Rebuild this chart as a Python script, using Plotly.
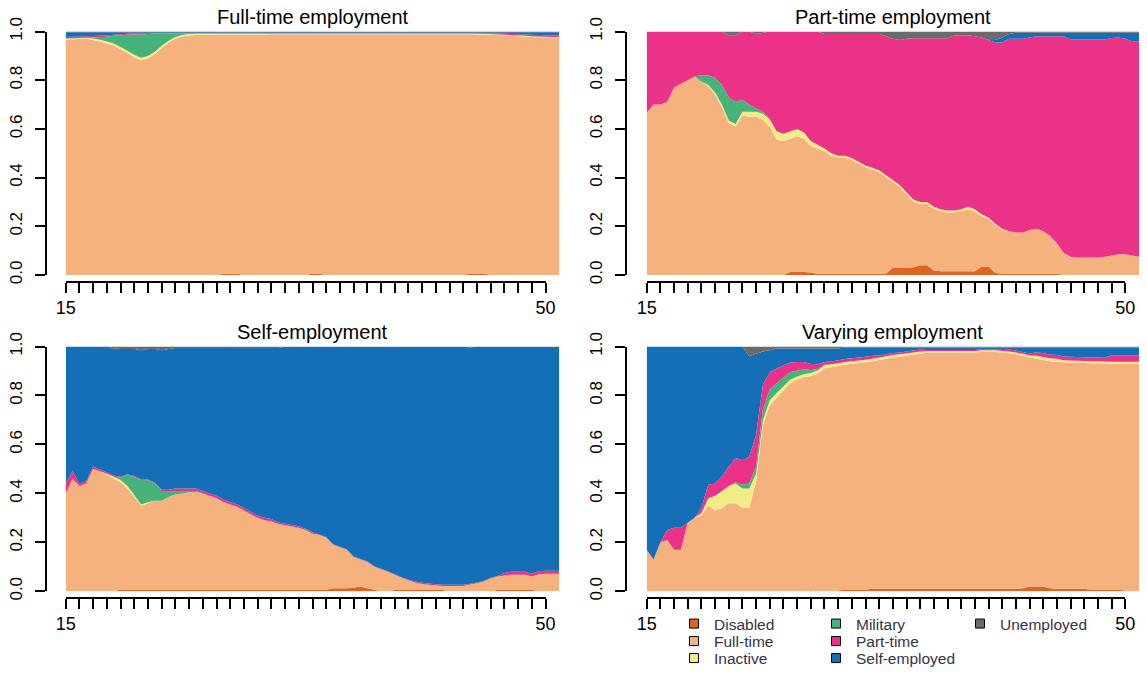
import plotly.graph_objects as go

# ---------------- data ----------------
ages = [15.0, 15.5, 16.0, 16.5, 17.0, 17.5, 18.0, 18.5, 19.0, 19.5,
        20.0, 20.5, 21.0, 21.5, 22.0, 22.5, 23.0, 23.5, 24.0, 24.5,
        25.0, 25.5, 26.0, 26.5, 27.0, 27.5, 28.0, 28.5, 29.0, 29.5,
        30.0, 30.5, 31.0, 31.5, 32.0, 32.5, 33.0, 33.5, 34.0, 34.5,
        35.0, 35.5, 36.0, 36.5, 37.0, 37.5, 38.0, 38.5, 39.0, 39.5,
        40.0, 40.5, 41.0, 41.5, 42.0, 42.5, 43.0, 43.5, 44.0, 44.5,
        45.0, 45.5, 46.0, 46.5, 47.0, 47.5, 48.0, 48.5, 49.0, 49.5,
        50.0, 50.5, 51.0]

states = ["Disabled", "Full-time", "Inactive", "Military",
          "Part-time", "Self-employed", "Unemployed"]
state_colors = ["#E0631F", "#F5B27F", "#F2EC87", "#47B37A",
                "#EA3388", "#146FB7", "#6B6B6B"]

panel_titles = ["Full-time employment", "Part-time employment",
                "Self-employment", "Varying employment"]

year_ticks = [15, 16, 17, 18, 19, 20, 21, 22, 23, 24, 25, 26, 27, 28, 29, 30,
              31, 32, 33, 34, 35, 36, 37, 38, 39, 40, 41, 42, 43, 44, 45, 46,
              47, 48, 49, 50]
year_tick_text = ["15"] + [""] * 34 + ["50"]
share_ticks = [0.0, 0.2, 0.4, 0.6, 0.8, 1.0]
share_tick_text = ["0.0", "0.2", "0.4", "0.6", "0.8", "1.0"]

# Panel 1: Full-time employment
fte_disabled = [0, 0, 0, 0, 0, 0, 0, 0, 0, 0,
                0, 0, 0, 0, 0, 0, 0, 0, 0, 0,
                0, 0, 0, 0.005, 0.005, 0.005, 0, 0, 0, 0,
                0, 0, 0, 0, 0, 0, 0.005, 0.005, 0, 0,
                0, 0, 0, 0, 0, 0, 0, 0, 0, 0,
                0, 0, 0, 0, 0, 0, 0, 0, 0, 0.006,
                0.006, 0.006, 0, 0, 0, 0, 0, 0, 0, 0,
                0, 0, 0]
fte_fulltime = [0.965, 0.968, 0.967, 0.963, 0.958, 0.952, 0.945, 0.935, 0.922, 0.905,
                0.89, 0.877, 0.882, 0.898, 0.922, 0.946, 0.964, 0.975, 0.98, 0.982,
                0.983, 0.984, 0.985, 0.98, 0.981, 0.981, 0.987, 0.988, 0.988, 0.989,
                0.99, 0.99, 0.99, 0.991, 0.991, 0.991, 0.986, 0.986, 0.991, 0.991,
                0.992, 0.992, 0.992, 0.992, 0.992, 0.992, 0.992, 0.992, 0.991, 0.991,
                0.991, 0.991, 0.991, 0.99, 0.99, 0.99, 0.99, 0.99, 0.99, 0.984,
                0.984, 0.984, 0.989, 0.988, 0.987, 0.986, 0.984, 0.982, 0.98, 0.978,
                0.976, 0.975, 0.975]
fte_inactive = [0.004, 0.004, 0.004, 0.004, 0.006, 0.007, 0.008, 0.008, 0.009, 0.009,
                0.01, 0.01, 0.01, 0.01, 0.009, 0.008, 0.007, 0.006, 0.006, 0.006,
                0.005, 0.005, 0.004, 0.004, 0.004, 0.004, 0.004, 0.004, 0.004, 0.004,
                0.003, 0.003, 0.003, 0.003, 0.003, 0.003, 0.003, 0.003, 0.003, 0.003,
                0.003, 0.003, 0.003, 0.003, 0.003, 0.003, 0.003, 0.003, 0.003, 0.003,
                0.003, 0.003, 0.003, 0.003, 0.003, 0.003, 0.003, 0.003, 0.003, 0.003,
                0.003, 0.003, 0.003, 0.003, 0.003, 0.003, 0.003, 0.003, 0.003, 0.003,
                0.003, 0.003, 0.003]
fte_military = [0, 0, 0, 0, 0.005, 0.012, 0.02, 0.032, 0.048, 0.066,
                0.083, 0.095, 0.09, 0.074, 0.05, 0.03, 0.014, 0.006, 0.002, 0,
                0, 0, 0, 0, 0, 0, 0, 0, 0, 0,
                0, 0, 0, 0, 0, 0, 0, 0, 0, 0,
                0, 0, 0, 0, 0, 0, 0, 0, 0, 0,
                0, 0, 0, 0, 0, 0, 0, 0, 0, 0,
                0, 0, 0, 0, 0, 0, 0, 0, 0, 0,
                0, 0, 0]
fte_parttime = [0.006, 0.006, 0.006, 0.006, 0.006, 0.006, 0.006, 0.004, 0.004, 0.004,
                0.004, 0.004, 0.004, 0.002, 0.002, 0.002, 0.002, 0.002, 0.002, 0.002,
                0.002, 0.002, 0.002, 0.002, 0.002, 0.002, 0.002, 0.002, 0.002, 0.002,
                0.002, 0.002, 0.002, 0.002, 0.002, 0.002, 0.002, 0.002, 0.002, 0.002,
                0.002, 0.002, 0.002, 0.002, 0.002, 0.002, 0.002, 0.002, 0.002, 0.002,
                0.002, 0.002, 0.002, 0.002, 0.002, 0.002, 0.002, 0.002, 0.002, 0.002,
                0.002, 0.002, 0.002, 0.004, 0.004, 0.005, 0.006, 0.006, 0.007, 0.007,
                0.007, 0.007, 0.007]
fte_selfemp = [0.02, 0.019, 0.018, 0.016, 0.015, 0.013, 0.012, 0.01, 0.008, 0.006,
               0.005, 0.005, 0.003, 0.003, 0.003, 0.003, 0.003, 0.003, 0.003, 0.003,
               0.003, 0.003, 0.003, 0.003, 0.003, 0.003, 0.003, 0.003, 0.003, 0.003,
               0.003, 0.003, 0.003, 0.003, 0.003, 0.003, 0.003, 0.003, 0.003, 0.003,
               0.003, 0.003, 0.003, 0.003, 0.003, 0.003, 0.003, 0.003, 0.003, 0.003,
               0.003, 0.003, 0.003, 0.003, 0.003, 0.003, 0.003, 0.003, 0.003, 0.003,
               0.004, 0.004, 0.005, 0.005, 0.006, 0.007, 0.008, 0.009, 0.01, 0.011,
               0.012, 0.013, 0.013]
fte_unemp = [0.003, 0.003, 0.003, 0.003, 0.003, 0.003, 0.003, 0.003, 0.003, 0.003,
             0.003, 0.003, 0.003, 0.003, 0.003, 0.003, 0.003, 0.003, 0.003, 0.003,
             0.003, 0.003, 0.003, 0.003, 0.003, 0.003, 0.003, 0.003, 0.003, 0.003,
             0.003, 0.003, 0.003, 0.003, 0.003, 0.003, 0.003, 0.003, 0.003, 0.003,
             0.003, 0.003, 0.003, 0.003, 0.003, 0.003, 0.003, 0.003, 0.003, 0.003,
             0.003, 0.003, 0.003, 0.003, 0.003, 0.003, 0.003, 0.003, 0.003, 0.003,
             0.003, 0.003, 0.003, 0.003, 0.003, 0.003, 0.003, 0.003, 0.003, 0.003,
             0.003, 0.003, 0.003]

# Panel 2: Part-time employment
pte_disabled = [0, 0, 0, 0, 0, 0, 0, 0, 0, 0,
                0, 0, 0, 0, 0, 0, 0, 0, 0, 0,
                0, 0.012, 0.012, 0.012, 0.01, 0.005, 0.005, 0.005, 0.005, 0.005,
                0.005, 0.005, 0.005, 0.005, 0.005, 0.005, 0.03, 0.03, 0.03, 0.032,
                0.04, 0.04, 0.018, 0.015, 0.015, 0.015, 0.015, 0.015, 0.015, 0.035,
                0.035, 0.008, 0.005, 0.005, 0.005, 0.005, 0.005, 0.005, 0.005, 0.005,
                0.005, 0, 0, 0, 0, 0, 0, 0, 0, 0,
                0, 0, 0]
pte_fulltime = [0.665, 0.70, 0.70, 0.71, 0.77, 0.785, 0.80, 0.815, 0.795, 0.775,
                0.74, 0.69, 0.625, 0.61, 0.655, 0.65, 0.65, 0.637, 0.61, 0.555,
                0.55, 0.548, 0.558, 0.548, 0.52, 0.515, 0.503, 0.485, 0.477, 0.477,
                0.467, 0.452, 0.437, 0.427, 0.417, 0.397, 0.352, 0.332, 0.302, 0.27,
                0.252, 0.252, 0.254, 0.247, 0.242, 0.242, 0.247, 0.255, 0.245, 0.205,
                0.195, 0.197, 0.18, 0.175, 0.17, 0.17, 0.18, 0.185, 0.175, 0.155,
                0.125, 0.09, 0.075, 0.072, 0.072, 0.072, 0.072, 0.075, 0.08, 0.085,
                0.085, 0.08, 0.075]
pte_inactive = [0, 0, 0, 0, 0, 0, 0, 0, 0, 0.005,
                0.01, 0.01, 0.01, 0.01, 0.015, 0.02, 0.02, 0.025, 0.03, 0.035,
                0.03, 0.03, 0.03, 0.025, 0.02, 0.015, 0.012, 0.01, 0.008, 0.008,
                0.008, 0.008, 0.008, 0.008, 0.008, 0.008, 0.008, 0.008, 0.008, 0.008,
                0.008, 0.008, 0.008, 0.008, 0.008, 0.008, 0.008, 0.01, 0.01, 0.01,
                0.005, 0.005, 0.005, 0, 0, 0, 0, 0, 0, 0,
                0, 0, 0, 0, 0, 0, 0, 0, 0, 0,
                0, 0, 0]
pte_military = [0, 0, 0, 0, 0, 0, 0, 0, 0.025, 0.04,
                0.06, 0.08, 0.095, 0.09, 0.05, 0.03, 0.015, 0.008, 0, 0,
                0, 0, 0, 0, 0, 0, 0, 0, 0, 0,
                0, 0, 0, 0, 0, 0, 0, 0, 0, 0,
                0, 0, 0, 0, 0, 0, 0, 0, 0, 0,
                0, 0, 0, 0, 0, 0, 0, 0, 0, 0,
                0, 0, 0, 0, 0, 0, 0, 0, 0, 0,
                0, 0, 0]
pte_parttime = [0.335, 0.30, 0.30, 0.29, 0.23, 0.215, 0.20, 0.185, 0.18, 0.18,
                0.19, 0.22, 0.255, 0.275, 0.28, 0.30, 0.305, 0.325, 0.36, 0.41,
                0.42, 0.41, 0.40, 0.415, 0.45, 0.465, 0.47, 0.49, 0.50, 0.50,
                0.51, 0.525, 0.54, 0.55, 0.56, 0.57, 0.58, 0.595, 0.63, 0.662,
                0.672, 0.672, 0.692, 0.702, 0.707, 0.72, 0.715, 0.705, 0.71, 0.725,
                0.73, 0.745, 0.765, 0.79, 0.795, 0.795, 0.79, 0.79, 0.80, 0.82,
                0.85, 0.89, 0.892, 0.895, 0.895, 0.895, 0.895, 0.892, 0.893, 0.89,
                0.885, 0.88, 0.885]
pte_selfemp = [0, 0, 0, 0, 0, 0, 0, 0, 0, 0,
               0, 0, 0, 0, 0, 0, 0, 0, 0, 0,
               0, 0, 0, 0, 0, 0, 0, 0, 0, 0,
               0, 0, 0, 0, 0, 0, 0, 0, 0, 0,
               0, 0, 0, 0, 0, 0, 0, 0, 0, 0,
               0, 0.01, 0.02, 0.02, 0.025, 0.025, 0.02, 0.015, 0.015, 0.015,
               0.015, 0.015, 0.028, 0.028, 0.028, 0.028, 0.028, 0.028, 0.022, 0.02,
               0.025, 0.035, 0.035]
pte_unemp = [0, 0, 0, 0, 0, 0, 0, 0, 0, 0,
             0, 0, 0.015, 0.015, 0, 0, 0.01, 0.005, 0, 0,
             0, 0, 0, 0, 0, 0, 0.01, 0.01, 0.01, 0.01,
             0.01, 0.01, 0.01, 0.01, 0.01, 0.02, 0.03, 0.035, 0.03, 0.028,
             0.028, 0.028, 0.028, 0.028, 0.028, 0.015, 0.015, 0.015, 0.02, 0.025,
             0.035, 0.035, 0.025, 0.01, 0.005, 0.005, 0.005, 0.005, 0.005, 0.005,
             0.005, 0.005, 0.005, 0.005, 0.005, 0.005, 0.005, 0.005, 0.005, 0.005,
             0.005, 0.005, 0.005]

# Panel 3: Self-employment
sem_disabled = [0, 0, 0, 0, 0, 0, 0, 0, 0.006, 0.006,
                0.006, 0.006, 0.006, 0.006, 0.006, 0.006, 0.006, 0.006, 0.006, 0.006,
                0.006, 0.006, 0.006, 0.006, 0.006, 0.006, 0.006, 0.006, 0.006, 0.006,
                0.006, 0.006, 0.006, 0.006, 0.006, 0.006, 0.006, 0.006, 0.006, 0.012,
                0.012, 0.012, 0.015, 0.02, 0.012, 0.006, 0, 0, 0.005, 0.005,
                0.005, 0.005, 0.005, 0.005, 0.005, 0.005, 0, 0, 0, 0,
                0, 0, 0, 0.006, 0.006, 0.006, 0.006, 0.006, 0.006, 0,
                0, 0, 0]
sem_fulltime = [0.40, 0.46, 0.43, 0.44, 0.50, 0.49, 0.475, 0.46, 0.439, 0.414,
                0.379, 0.344, 0.354, 0.364, 0.364, 0.379, 0.389, 0.394, 0.399, 0.399,
                0.394, 0.384, 0.374, 0.359, 0.349, 0.339, 0.324, 0.309, 0.294, 0.284,
                0.279, 0.269, 0.264, 0.259, 0.254, 0.244, 0.229, 0.224, 0.214, 0.178,
                0.168, 0.158, 0.125, 0.11, 0.108, 0.094, 0.09, 0.08, 0.063, 0.05,
                0.04, 0.03, 0.025, 0.022, 0.019, 0.017, 0.022, 0.022, 0.022, 0.028,
                0.033, 0.04, 0.052, 0.054, 0.059, 0.062, 0.062, 0.062, 0.054, 0.07,
                0.072, 0.072, 0.072]
sem_inactive = [0, 0, 0, 0, 0, 0, 0.005, 0.008, 0.01, 0.01,
                0.008, 0.005, 0.004, 0, 0, 0, 0, 0, 0, 0,
                0, 0, 0, 0, 0, 0, 0, 0, 0, 0,
                0, 0, 0, 0, 0, 0, 0, 0, 0, 0,
                0, 0, 0, 0, 0, 0, 0, 0, 0, 0,
                0, 0, 0, 0, 0, 0, 0, 0, 0, 0,
                0, 0, 0, 0, 0, 0, 0, 0, 0, 0,
                0, 0, 0]
sem_military = [0, 0, 0, 0, 0, 0, 0, 0, 0.01, 0.045,
                0.075, 0.10, 0.09, 0.07, 0.04, 0.025, 0.015, 0.01, 0.005, 0.005,
                0, 0, 0, 0, 0, 0, 0, 0, 0, 0,
                0, 0, 0, 0, 0, 0, 0, 0, 0, 0,
                0, 0, 0, 0, 0, 0, 0, 0, 0, 0,
                0, 0, 0, 0, 0, 0, 0, 0, 0, 0,
                0, 0, 0, 0, 0, 0, 0, 0, 0, 0,
                0, 0, 0]
sem_parttime = [0.04, 0.03, 0.01, 0.01, 0.01, 0.008, 0.006, 0.005, 0.003, 0.003,
                0.003, 0.003, 0.003, 0.003, 0.005, 0.005, 0.01, 0.01, 0.01, 0.01,
                0.01, 0.01, 0.01, 0.01, 0.01, 0.01, 0.01, 0.01, 0.01, 0.01,
                0.01, 0.006, 0.006, 0.006, 0.006, 0.006, 0.006, 0.002, 0.002, 0.002,
                0.002, 0.002, 0.002, 0.002, 0.002, 0.002, 0.002, 0.002, 0.002, 0.002,
                0.002, 0.005, 0.005, 0.005, 0.005, 0.005, 0.005, 0.005, 0.005, 0.003,
                0.003, 0.003, 0.003, 0.003, 0.01, 0.012, 0.012, 0.012, 0.012, 0.012,
                0.012, 0.012, 0.012]
sem_selfemp = [0.56, 0.51, 0.56, 0.55, 0.49, 0.502, 0.514, 0.519, 0.522, 0.512,
               0.519, 0.527, 0.533, 0.547, 0.57, 0.575, 0.574, 0.574, 0.574, 0.574,
               0.584, 0.594, 0.604, 0.619, 0.629, 0.639, 0.654, 0.669, 0.684, 0.694,
               0.699, 0.713, 0.723, 0.728, 0.733, 0.743, 0.758, 0.767, 0.777, 0.807,
               0.817, 0.827, 0.857, 0.867, 0.877, 0.897, 0.907, 0.917, 0.929, 0.942,
               0.952, 0.959, 0.964, 0.967, 0.97, 0.972, 0.972, 0.972, 0.972, 0.965,
               0.963, 0.956, 0.944, 0.936, 0.924, 0.919, 0.919, 0.919, 0.927, 0.917,
               0.915, 0.915, 0.915]
sem_unemp = [0, 0, 0, 0, 0, 0, 0, 0.008, 0.01, 0.01,
             0.01, 0.015, 0.01, 0.01, 0.015, 0.01, 0.006, 0.006, 0.006, 0.006,
             0.006, 0.006, 0.006, 0.006, 0.006, 0.006, 0.006, 0.006, 0.006, 0.006,
             0.006, 0.006, 0.001, 0.001, 0.001, 0.001, 0.001, 0.001, 0.001, 0.001,
             0.001, 0.001, 0.001, 0.001, 0.001, 0.001, 0.001, 0.001, 0.001, 0.001,
             0.001, 0.001, 0.001, 0.001, 0.001, 0.001, 0.001, 0.001, 0.001, 0.004,
             0.001, 0.001, 0.001, 0.001, 0.001, 0.001, 0.001, 0.001, 0.001, 0.001,
             0.001, 0.001, 0.001]

# Panel 4: Varying employment
vae_disabled = [0, 0, 0, 0, 0, 0, 0, 0, 0, 0,
                0, 0, 0, 0, 0, 0, 0, 0, 0, 0,
                0, 0, 0, 0, 0.004, 0, 0, 0, 0.003, 0.006,
                0.006, 0.006, 0.006, 0.01, 0.01, 0.01, 0.01, 0.01, 0.01, 0.01,
                0.01, 0.01, 0.01, 0.01, 0.01, 0.01, 0.01, 0.01, 0.01, 0.01,
                0.01, 0.01, 0.01, 0.01, 0.01, 0.012, 0.02, 0.02, 0.02, 0.012,
                0.01, 0.01, 0.01, 0.01, 0.01, 0.006, 0.006, 0.006, 0.006, 0.006,
                0.003, 0, 0]
vae_fulltime = [0.17, 0.13, 0.20, 0.21, 0.17, 0.17, 0.28, 0.30, 0.31, 0.35,
                0.33, 0.34, 0.36, 0.36, 0.34, 0.34, 0.45, 0.68, 0.76, 0.79,
                0.82, 0.85, 0.865, 0.875, 0.876, 0.89, 0.91, 0.915, 0.917, 0.919,
                0.924, 0.927, 0.93, 0.93, 0.935, 0.94, 0.945, 0.948, 0.952, 0.956,
                0.96, 0.965, 0.965, 0.965, 0.965, 0.965, 0.965, 0.965, 0.965, 0.968,
                0.968, 0.968, 0.965, 0.962, 0.958, 0.95, 0.935, 0.93, 0.925, 0.928,
                0.928, 0.926, 0.925, 0.924, 0.923, 0.926, 0.926, 0.925, 0.924, 0.924,
                0.927, 0.93, 0.93]
vae_inactive = [0, 0, 0, 0, 0, 0, 0, 0, 0.01, 0.03,
                0.06, 0.07, 0.07, 0.08, 0.08, 0.08, 0.03, 0.02, 0.02, 0.02,
                0.018, 0.015, 0.012, 0.012, 0.012, 0.012, 0.012, 0.012, 0.012, 0.012,
                0.01, 0.01, 0.01, 0.01, 0.01, 0.01, 0.01, 0.01, 0.01, 0.01,
                0.01, 0.007, 0.007, 0.007, 0.007, 0.007, 0.007, 0.007, 0.007, 0.007,
                0.007, 0.007, 0.007, 0.008, 0.008, 0.008, 0.008, 0.012, 0.012, 0.012,
                0.012, 0.008, 0.008, 0.008, 0.008, 0.008, 0.008, 0.008, 0.008, 0.008,
                0.008, 0.008, 0.008]
vae_military = [0, 0, 0, 0, 0, 0, 0, 0, 0, 0,
                0, 0, 0, 0.005, 0.015, 0.02, 0.03, 0.045, 0.045, 0.04,
                0.035, 0.03, 0.025, 0.02, 0.012, 0.006, 0.003, 0, 0, 0,
                0, 0, 0, 0, 0, 0, 0, 0, 0, 0,
                0, 0, 0, 0, 0, 0, 0, 0, 0, 0,
                0, 0, 0, 0, 0, 0, 0, 0, 0, 0,
                0, 0, 0, 0, 0, 0, 0, 0, 0, 0,
                0, 0, 0]
vae_parttime = [0, 0, 0, 0.04, 0.09, 0.09, 0, 0, 0.02, 0.055,
                0.05, 0.06, 0.08, 0.10, 0.10, 0.11, 0.13, 0.10, 0.07, 0.06,
                0.05, 0.04, 0.035, 0.03, 0.025, 0.02, 0.012, 0.012, 0.012, 0.012,
                0.012, 0.012, 0.012, 0.012, 0.008, 0.008, 0.008, 0.008, 0.008, 0.008,
                0.008, 0.004, 0.004, 0.004, 0.004, 0.004, 0.004, 0.004, 0.004, 0.004,
                0.004, 0.004, 0.004, 0.008, 0.008, 0.008, 0.008, 0.015, 0.015, 0.015,
                0.015, 0.015, 0.015, 0.015, 0.015, 0.015, 0.015, 0.015, 0.025, 0.025,
                0.025, 0.025, 0.025]
vae_selfemp = [0.83, 0.87, 0.80, 0.75, 0.74, 0.74, 0.72, 0.70, 0.66, 0.565,
               0.56, 0.53, 0.49, 0.455, 0.465, 0.41, 0.33, 0.135, 0.09, 0.082,
               0.069, 0.057, 0.055, 0.055, 0.063, 0.064, 0.055, 0.053, 0.048, 0.047,
               0.044, 0.041, 0.038, 0.034, 0.033, 0.028, 0.023, 0.02, 0.016, 0.012,
               0.008, 0.01, 0.01, 0.01, 0.01, 0.01, 0.01, 0.01, 0.01, 0.007,
               0.007, 0.007, 0.01, 0.008, 0.012, 0.018, 0.025, 0.019, 0.024, 0.029,
               0.031, 0.037, 0.038, 0.039, 0.04, 0.041, 0.041, 0.042, 0.033, 0.033,
               0.033, 0.033, 0.033]
vae_unemp = [0, 0, 0, 0, 0, 0, 0, 0, 0, 0,
             0, 0, 0, 0, 0, 0.04, 0.03, 0.02, 0.015, 0.008,
             0.008, 0.008, 0.008, 0.008, 0.008, 0.008, 0.008, 0.008, 0.008, 0.004,
             0.004, 0.004, 0.004, 0.004, 0.004, 0.004, 0.004, 0.004, 0.004, 0.004,
             0.004, 0.004, 0.004, 0.004, 0.004, 0.004, 0.004, 0.004, 0.004, 0.004,
             0.004, 0.004, 0.004, 0.004, 0.004, 0.004, 0.004, 0.004, 0.004, 0.004,
             0.004, 0.004, 0.004, 0.004, 0.004, 0.004, 0.004, 0.004, 0.004, 0.004,
             0.004, 0.004, 0.004]

panel_series = [
    [fte_disabled, fte_fulltime, fte_inactive, fte_military, fte_parttime, fte_selfemp, fte_unemp],
    [pte_disabled, pte_fulltime, pte_inactive, pte_military, pte_parttime, pte_selfemp, pte_unemp],
    [sem_disabled, sem_fulltime, sem_inactive, sem_military, sem_parttime, sem_selfemp, sem_unemp],
    [vae_disabled, vae_fulltime, vae_inactive, vae_military, vae_parttime, vae_selfemp, vae_unemp],
]

# ---------------- layout geometry (page pixels) ----------------
PAGE_OFF = 8          # browser default body margin
FIG_W, FIG_H = 1131, 659


def fx(px):
    return min(1.0, max(0.0, (px - PAGE_OFF) / FIG_W))


def fy(py):
    return min(1.0, max(0.0, 1 - (py - PAGE_OFF) / FIG_H))


cols = [(65.7, 559.3), (646.7, 1139.0)]
rows = [(31.5, 275.0), (346.5, 591.3)]
yaxis_line_x = [45.5, 626.0]
xaxis_gap = 6.7
FONT = "Liberation Sans, Arial, sans-serif"

fig = go.Figure()
layout = dict(
    template="none",
    width=FIG_W, height=FIG_H,
    margin=dict(l=0, r=0, t=0, b=0, pad=0, autoexpand=False),
    paper_bgcolor="white", plot_bgcolor="rgba(0,0,0,0)",
    font=dict(family=FONT, color="black"),
    showlegend=True,
    annotations=[],
)

for k in range(4):
    r, c = divmod(k, 2)
    x0, x1 = cols[c]
    y0, y1 = rows[r]
    xa = "x" if k == 0 else f"x{k + 1}"
    ya = "y" if k == 0 else f"y{k + 1}"
    hx = f"x{k + 5}"
    for s, (name, col, vals) in enumerate(zip(states, state_colors, panel_series[k])):
        tr = dict(x=ages, y=vals, mode="none", stackgroup=f"p{k}",
                  fillcolor=col, xaxis=xa, yaxis=ya, showlegend=False,
                  hoverinfo="skip", name=name)
        if s == 0:
            tr["groupnorm"] = "fraction"
        fig.add_trace(go.Scatter(**tr))
    # invisible trace to register the tick axis
    fig.add_trace(go.Scatter(x=[None], y=[None], xaxis=hx, yaxis=ya,
                             showlegend=False, hoverinfo="skip", mode="markers"))

    xkey = "xaxis" if k == 0 else f"xaxis{k + 1}"
    ykey = "yaxis" if k == 0 else f"yaxis{k + 1}"
    layout[xkey] = dict(domain=[fx(x0), fx(x1)], range=[15, 51], visible=False,
                        anchor=ya, fixedrange=True, automargin=False)
    layout[ykey] = dict(domain=[fy(y1), fy(y0)], range=[0, 1], anchor="free",
                        position=fx(yaxis_line_x[c]), showline=True,
                        linecolor="black", linewidth=1.6, ticks="outside",
                        ticklen=10, tickwidth=1.6, tickcolor="black",
                        tickvals=share_ticks, ticktext=share_tick_text,
                        tickangle=-90, ticklabelstandoff=6,
                        tickfont=dict(size=17, family=FONT, color="black"),
                        showgrid=False, zeroline=False, fixedrange=True,
                        automargin=False)
    x50 = x0 + (x1 - x0) * 35 / 36
    layout[f"xaxis{k + 5}"] = dict(domain=[fx(x0), fx(x50)], range=[15, 50],
                                   anchor="free", position=fy(y1 + xaxis_gap),
                                   showline=True, linecolor="black", linewidth=1.6,
                                   ticks="outside", ticklen=10, tickwidth=1.6,
                                   tickcolor="black", tickvals=year_ticks,
                                   ticktext=year_tick_text,
                                   tickfont=dict(size=18, family=FONT, color="black"),
                                   showgrid=False, zeroline=False, fixedrange=True,
                                   automargin=False)
    layout["annotations"].append(dict(
        text=panel_titles[k], xref="paper", yref="paper",
        x=fx((x0 + x1) / 2), y=fy(y0 - 14.5), xanchor="center", yanchor="middle",
        showarrow=False, font=dict(size=20, family=FONT, color="black")))

# ---------------- legend (7 single-entry legends, R-style column layout) ----
legend_pos = [(674, 624), (674, 641.5), (674, 658.5),
              (816, 624), (816, 641.5), (816, 658.5),
              (960, 624)]
for s, (name, col) in enumerate(zip(states, state_colors)):
    lkey = "legend" if s == 0 else f"legend{s + 1}"
    fig.add_trace(go.Scatter(
        x=[None], y=[None], mode="markers", name=name,
        marker=dict(symbol="square", size=9, color=col,
                    line=dict(color="black", width=1)),
        legend=lkey, showlegend=True, hoverinfo="skip"))
    lx, ly = legend_pos[s]
    layout[lkey] = dict(x=fx(lx), y=fy(ly), xanchor="left", yanchor="middle",
                        bgcolor="rgba(0,0,0,0)", borderwidth=0,
                        font=dict(size=15.5, family=FONT, color="#333348"),
                        itemclick=False, itemdoubleclick=False)

fig.update_layout(**layout)
fig.write_html("out.html")
